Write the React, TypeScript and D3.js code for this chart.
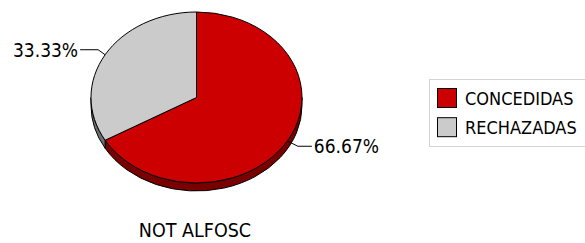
import React, { useEffect, useRef } from 'react'
import * as d3 from 'd3'

const categories = ['CONCEDIDAS', 'RECHAZADAS']
const values = [66.67, 33.33]
const percentLabels = ['66.67%', '33.33%']
const chartTitle = 'NOT ALFOSC'
const topColors = ['#cc0000', '#cbcbcb']
const sideColors = ['#7a0000', '#6e6e6e']

export default function App() {
  const ref = useRef<SVGSVGElement | null>(null)

  useEffect(() => {
    if (!ref.current) return
    const svg = d3.select(ref.current)
    svg.selectAll('*').remove()

    const cx = 196.5, cy = 97.5, rx = 105.5, ry = 85.5, depth = 8
    const font = '"DejaVu Sans Condensed", "DejaVu Sans", sans-serif'

    const pie = d3.pie<number>().sort(null).startAngle(0).endAngle(2 * Math.PI)
    const arcs = pie(values)
    const pt = (a: number, dy = 0): [number, number] => [cx + rx * Math.sin(a), cy - ry * Math.cos(a) + dy]

    // side walls (front half only: angles PI/2 .. 3PI/2)
    arcs.forEach((d, i) => {
      const a0 = Math.max(d.startAngle, Math.PI / 2)
      const a1 = Math.min(d.endAngle, 1.5 * Math.PI)
      if (a1 <= a0) return
      const [x0, y0] = pt(a0)
      const [x1, y1] = pt(a1)
      const large = a1 - a0 > Math.PI ? 1 : 0
      const p = `M${x0},${y0} A${rx},${ry} 0 ${large} 1 ${x1},${y1} L${x1},${y1 + depth} A${rx},${ry} 0 ${large} 0 ${x0},${y0 + depth} Z`
      svg.append('path').attr('d', p).attr('fill', sideColors[i]).attr('stroke', '#000').attr('stroke-width', 1)
    })

    const arc = d3.arc<d3.PieArcDatum<number>>().innerRadius(0).outerRadius(rx)
    svg.append('g')
      .attr('transform', `translate(${cx},${cy}) scale(1,${ry / rx})`)
      .selectAll('path')
      .data(arcs)
      .enter()
      .append('path')
      .attr('d', arc)
      .attr('fill', (_, i) => topColors[i])
      .attr('stroke', '#000')
      .attr('stroke-width', 1)
      .attr('vector-effect', 'non-scaling-stroke')

    // leader lines + labels
    arcs.forEach((d, i) => {
      const mid = (d.startAngle + d.endAngle) / 2
      const [px, py] = pt(mid, Math.sin(mid) > 0 ? 1 : 0)
      const right = Math.sin(mid) > 0
      const ex = right ? px + 10 : px - 7
      const ey = right ? py + 5 : py - 5
      const lx = right ? ex + 14 : ex - 18
      svg.append('path')
        .attr('d', `M${px},${py} L${ex},${ey} L${lx},${ey}`)
        .attr('fill', 'none').attr('stroke', '#000').attr('stroke-width', 1)
      svg.append('text')
        .attr('x', right ? lx + 2 : lx - 2).attr('y', ey + 7)
        .attr('text-anchor', right ? 'start' : 'end')
        .attr('font-family', font).attr('font-size', 19).attr('fill', '#000')
        .text(percentLabels[i])
    })

    // legend
    const lg = svg.append('g')
    lg.append('rect').attr('x', 429.5).attr('y', 79.5).attr('width', 170).attr('height', 67)
      .attr('fill', '#fff').attr('stroke', '#d4d4d4').attr('stroke-width', 1)
    const ly = d3.scaleBand<string>().domain(categories).range([86, 140]).paddingInner(0.15)
    categories.forEach((c, i) => {
      const y = ly(c) as number
      lg.append('rect').attr('x', 437.5).attr('y', y + 2.5).attr('width', 19).attr('height', 19)
        .attr('fill', topColors[i]).attr('stroke', '#000').attr('stroke-width', 1)
      lg.append('text').attr('x', 465).attr('y', y + 19)
        .attr('font-family', font).attr('font-size', 18).attr('fill', '#000')
        .text(c)
    })

    svg.append('text').attr('x', 195).attr('y', 237).attr('text-anchor', 'middle')
      .attr('font-family', font).attr('font-size', 19.5).attr('fill', '#000')
      .text(chartTitle)
  }, [])

  return (
    <svg ref={ref} width={585} height={243}
      style={{ position: 'absolute', left: 0, top: 0, background: '#fff' }} />
  )
}
